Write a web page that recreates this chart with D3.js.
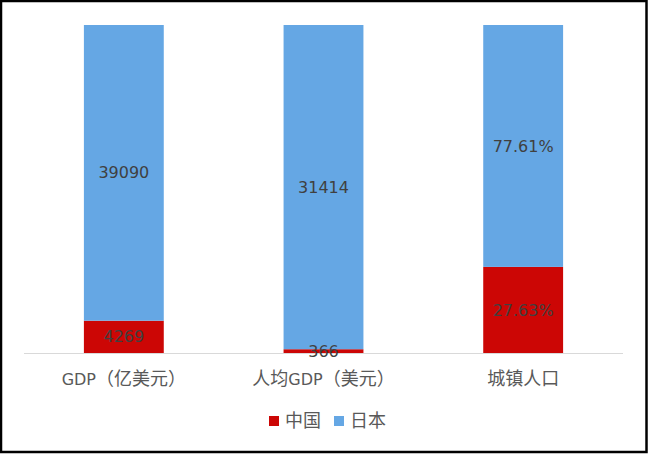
<!DOCTYPE html>
<html>
<head>
<meta charset="utf-8">
<script src="https://cdn.jsdelivr.net/npm/d3@7"></script>
<style>
  body { margin: 0; background: #fff; }
  text { font-family: "DejaVu Sans", "Noto Sans CJK SC", sans-serif; }
</style>
</head>
<body>
<script>
// data
var categories = ["GDP（亿美元）", "人均GDP（美元）", "城镇人口"];
var chinaValues = [4269, 366, 27.63];
var japanValues = [39090, 31414, 77.61];
var valueLabelsChina = ["4269", "366", "27.63%"];
var valueLabelsJapan = ["39090", "31414", "77.61%"];
var seriesNames = ["中国", "日本"];
var seriesColors = ["#CC0605", "#65A7E4"];

var width = 648, height = 454;
var svg = d3.select("body").append("svg")
    .attr("width", width)
    .attr("height", height);

// outer frame
svg.append("rect")
    .attr("x", 1).attr("y", 1)
    .attr("width", width - 2.5).attr("height", height - 3)
    .attr("fill", "#fff")
    .attr("stroke", "#000")
    .attr("stroke-width", 2.5);

var xScale = d3.scaleBand().domain(categories).range([24, 623]).paddingInner(0.6).paddingOuter(0.3);
var yScale = d3.scaleLinear().domain([0, 1]).range([353, 25]);

// stacked 100% data
var rows = categories.map(function(c, i) {
  var total = chinaValues[i] + japanValues[i];
  return { cat: c, china: chinaValues[i] / total, japan: japanValues[i] / total, i: i };
});
var series = d3.stack().keys(["china", "japan"])(rows);

svg.append("g").selectAll("g")
    .data(series)
  .enter().append("g")
    .attr("fill", function(d, i) { return seriesColors[i]; })
  .selectAll("rect")
    .data(function(d) { return d; })
  .enter().append("rect")
    .attr("x", function(d) { return xScale(d.data.cat); })
    .attr("y", function(d) { return yScale(d[1]); })
    .attr("width", xScale.bandwidth())
    .attr("height", function(d) { return yScale(d[0]) - yScale(d[1]); });

// axis line
svg.append("line")
    .attr("x1", 24).attr("x2", 623)
    .attr("y1", 353.5).attr("y2", 353.5)
    .attr("stroke", "#d9d9d9");

// value labels
var labelSets = [valueLabelsChina, valueLabelsJapan];
series.forEach(function(s, k) {
  svg.selectAll(".lbl" + k)
      .data(s)
    .enter().append("text")
      .attr("x", function(d) { return xScale(d.data.cat) + xScale.bandwidth() / 2; })
      .attr("y", function(d) { return (yScale(d[0]) + yScale(d[1])) / 2; })
      .attr("dy", "0.35em")
      .attr("text-anchor", "middle")
      .attr("fill", "#404040")
      .attr("font-size", 16)
      .text(function(d) { return labelSets[k][d.data.i]; });
});

// mixed text: CJK runs bigger than latin runs
var cjk = /[\u3000-\u9fff\uff00-\uffef]/;
function mixedText(sel, str) {
  sel.text(null);
  (str.match(/[\u3000-\u9fff\uff00-\uffef]+|[^\u3000-\u9fff\uff00-\uffef]+/g) || []).forEach(function(run) {
    var big = cjk.test(run);
    sel.append("tspan")
      .attr("font-size", big ? 18 : 16)
      .style("font-family", big ? "'Noto Sans CJK SC', sans-serif" : "'DejaVu Sans', sans-serif")
      .text(run);
  });
}

// category labels
var ax = svg.append("g")
    .attr("transform", "translate(0,353)")
    .call(d3.axisBottom(xScale).tickSize(0).tickPadding(0));
ax.select(".domain").remove();
ax.selectAll("text")
    .attr("y", 26)
    .attr("dy", "0.35em")
    .attr("fill", "#595959")
    .attr("font-size", 16)
    .each(function(d) { mixedText(d3.select(this), d); });

// legend
var legendX = [269, 334];
var legend = svg.selectAll(".legend")
    .data(seriesNames)
  .enter().append("g")
    .attr("transform", function(d, i) { return "translate(" + legendX[i] + ",421)"; });
legend.append("rect")
    .attr("x", 0).attr("y", -5)
    .attr("width", 10).attr("height", 10)
    .attr("fill", function(d, i) { return seriesColors[i]; });
legend.append("text")
    .attr("x", 16)
    .attr("dy", "0.35em")
    .attr("fill", "#595959")
    .each(function(d) { mixedText(d3.select(this), d); });
</script>
</body>
</html>
